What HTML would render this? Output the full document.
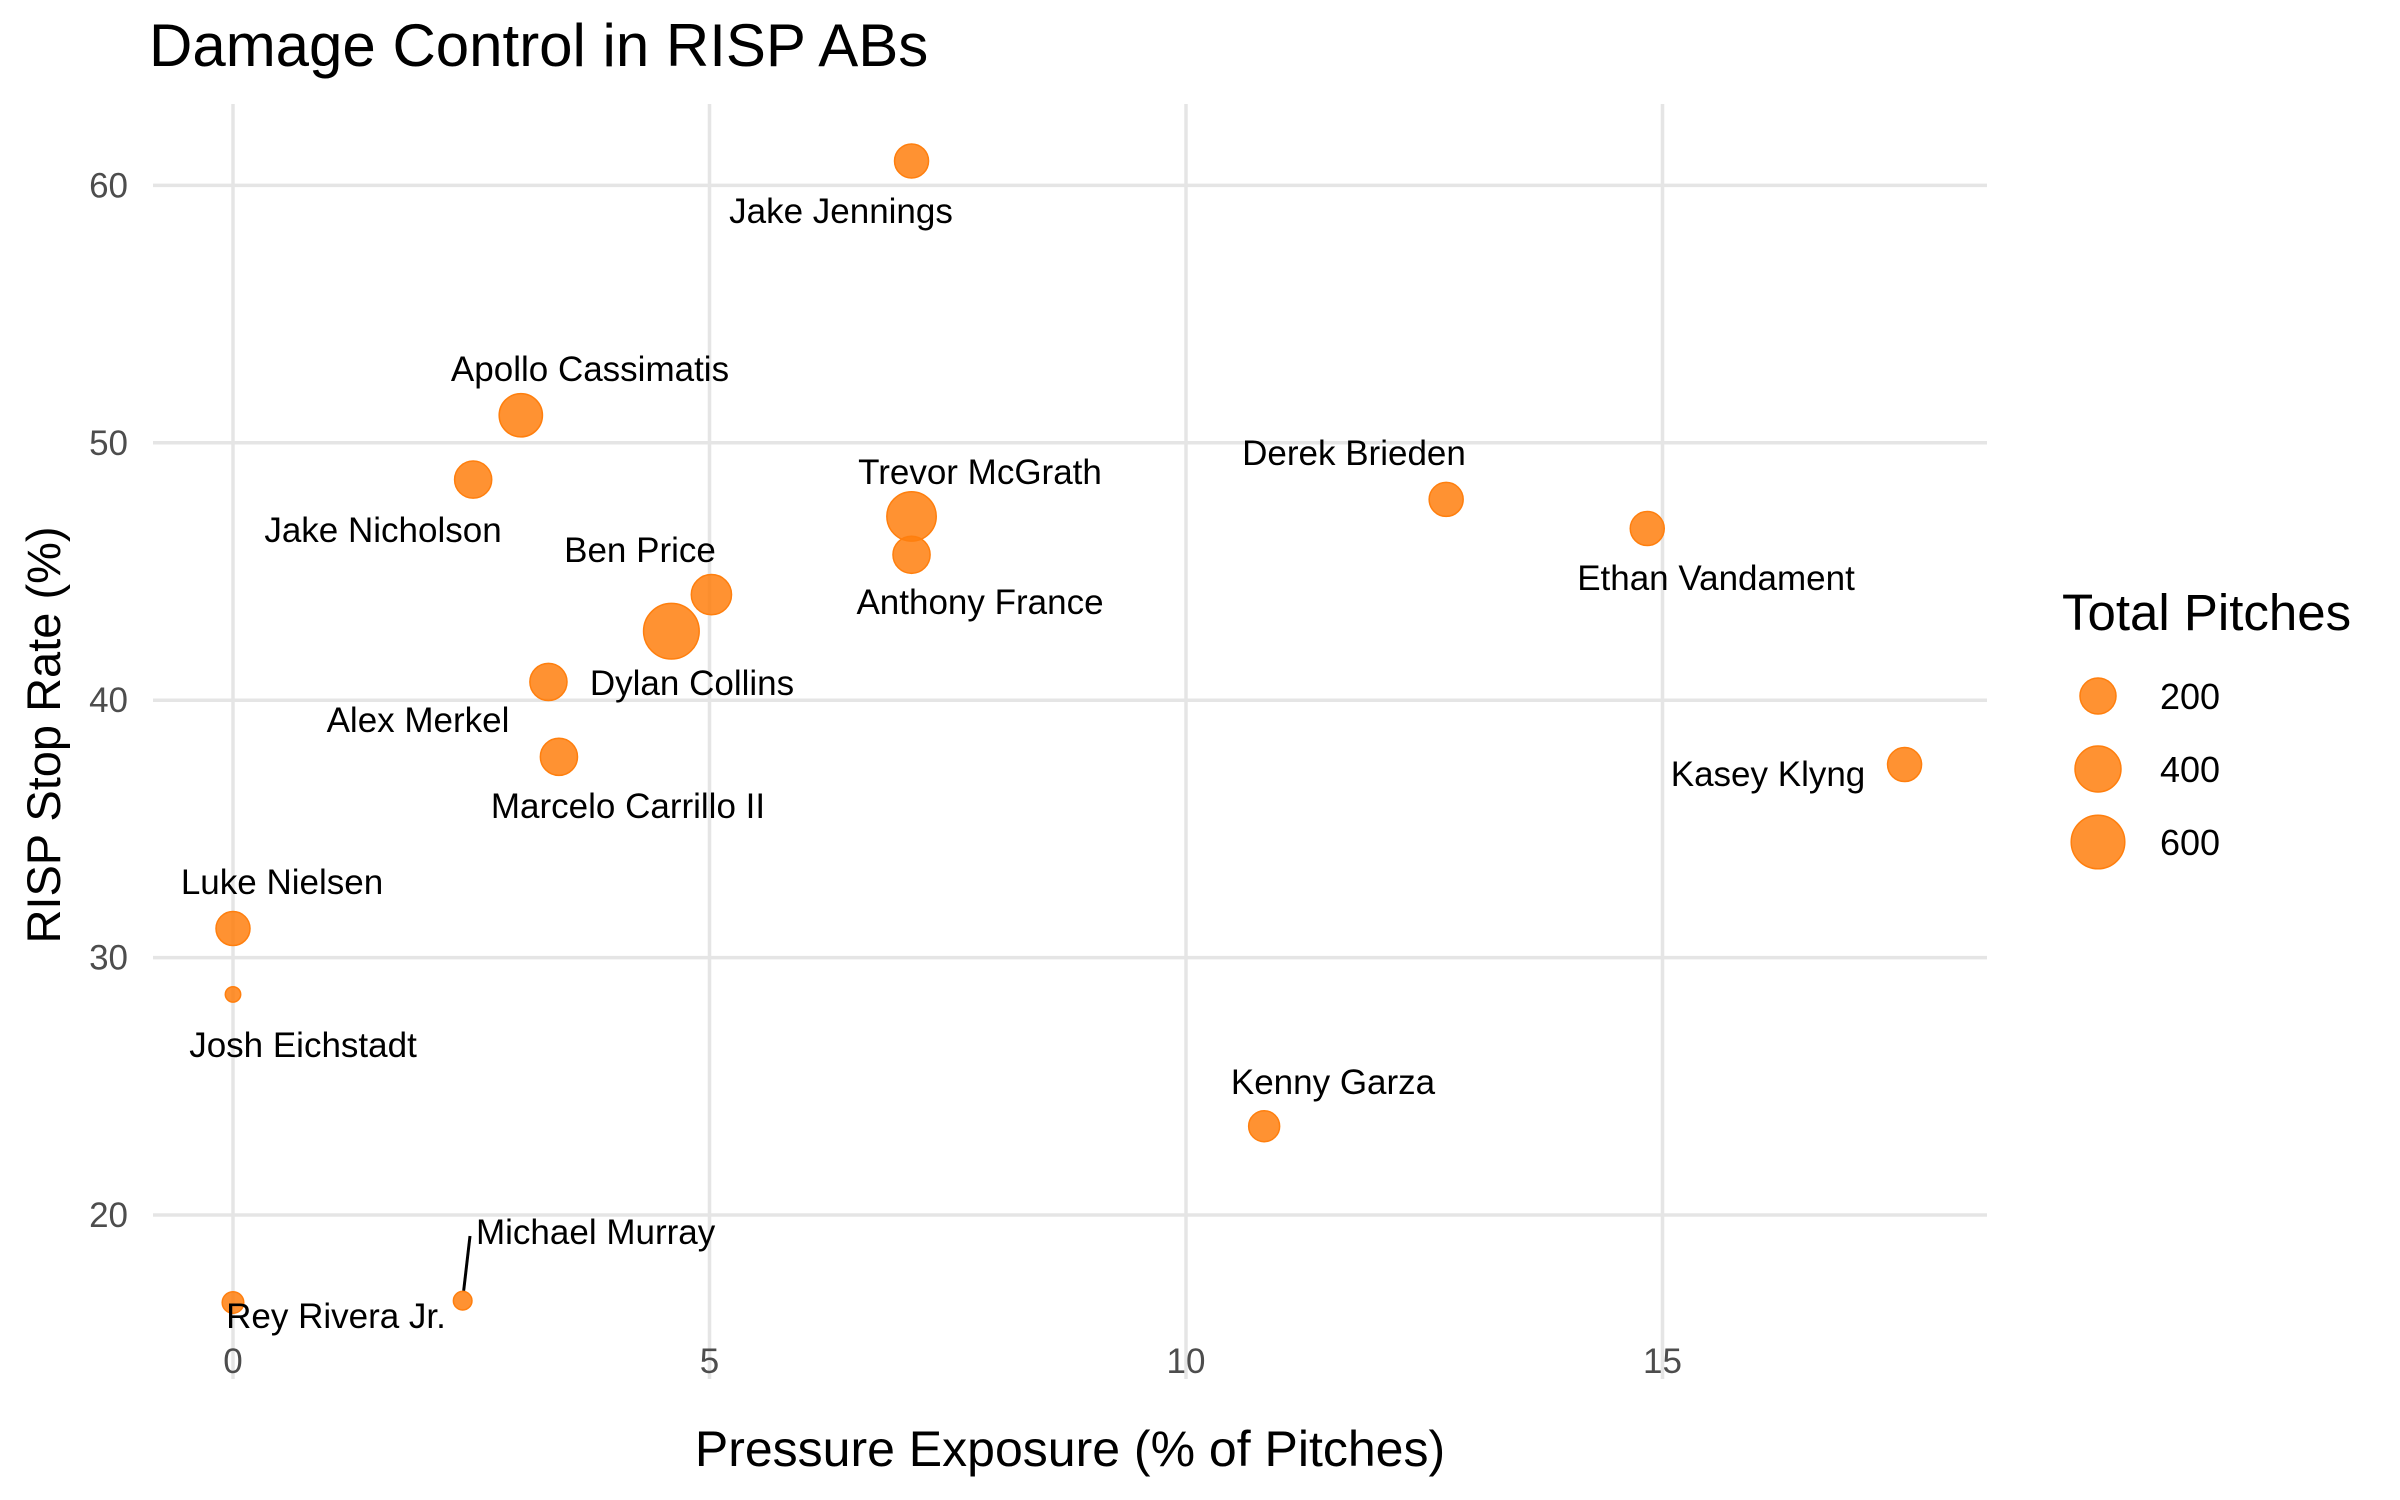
<!DOCTYPE html>
<html><head><meta charset="utf-8"><style>
html,body{margin:0;padding:0;background:#fff}
svg{display:block;font-family:"Liberation Sans",Arial,sans-serif}
</style></head><body>
<svg id="chart" width="2400" height="1500" viewBox="0 0 2400 1500">
<text x="149" y="66" font-size="60" fill="#000">Damage Control in RISP ABs</text>
<g id="grid"></g>
<g id="ticks"></g>
<g id="points"></g>
<g id="labels"></g>
<text x="1070" y="1466" font-size="50" text-anchor="middle" fill="#000">Pressure Exposure (% of Pitches)</text>
<text transform="translate(60,735) rotate(-90)" font-size="47" text-anchor="middle" fill="#000">RISP Stop Rate (%)</text>
<g id="legend">
<text x="2062" y="630" font-size="51" fill="#000">Total Pitches</text>
</g>
</svg>
<script>
const names = ["Jake Jennings","Apollo Cassimatis","Jake Nicholson","Trevor McGrath","Anthony France","Ben Price","Alex Merkel","Dylan Collins","Marcelo Carrillo II","Derek Brieden","Ethan Vandament","Kasey Klyng","Luke Nielsen","Josh Eichstadt","Kenny Garza","Rey Rivera Jr.","Michael Murray"];
const xVals = [7.12,3.02,2.52,7.12,7.12,5.02,4.6,3.31,3.42,12.73,14.84,17.54,0,0,10.82,0,2.41];
const yVals = [60.95,51.07,48.57,47.14,45.65,44.1,42.68,40.71,37.8,47.8,46.67,37.5,31.13,28.57,23.45,16.6,16.67];
const pitches = [168,339,219,485,219,276,660,219,219,168,168,168,168,4,125,32,15];
const xTicks = [0,5,10,15];
const yTicks = [20,30,40,50,60];
const legendVals = [200,400,600];
// label anchor positions (pixel layout, not data)
const labelPos = [[841,211,"middle"],[590,369,"middle"],[383,530,"middle"],[980,472,"middle"],[980,602,"middle"],[640,550,"middle"],[418,720,"middle"],[692,683,"middle"],[628,806,"middle"],[1354,453,"middle"],[1716,578,"middle"],[1768,774,"middle"],[282,882,"middle"],[303,1045,"middle"],[1333,1082,"middle"],[336,1316,"middle"],[476,1232,"start"]];

const NS="http://www.w3.org/2000/svg";
const X = v => 233 + v*95.3;
const Y = v => 185.4 + (60 - v)*25.74;
const R = v => 6 + 0.849*Math.sqrt(v);
function mk(tag, attrs, parent){const e=document.createElementNS(NS,tag);for(const k in attrs)e.setAttribute(k,attrs[k]);parent.appendChild(e);return e;}
const grid=document.getElementById('grid'), ticks=document.getElementById('ticks'), pts=document.getElementById('points'), labs=document.getElementById('labels'), leg=document.getElementById('legend');
xTicks.forEach(t=>{
  const l=mk('line',{x1:X(t),x2:X(t),y1:104,y2:1379,stroke:'#e5e5e5','stroke-width':3.5},grid);
  
  
  const tx=mk('text',{x:X(t),y:1373,'font-size':35,fill:'#4d4d4d','text-anchor':'middle'},ticks);
  tx.textContent=t;
  
  
});
yTicks.forEach(t=>{
  const l=mk('line',{x1:153,x2:1987,y1:Y(t),y2:Y(t),stroke:'#e5e5e5','stroke-width':3.5},grid);
  
  
  const tx=mk('text',{x:128,y:Y(t)+12,'font-size':35,fill:'#4d4d4d','text-anchor':'end'},ticks);
  tx.textContent=t;
  
  
});
const seg=mk('line',{x1:X(xVals[16])+1,y1:Y(yVals[16])-10,x2:470,y2:1236,stroke:'#000','stroke-width':3},labs);


names.forEach((n,i)=>{
  const c=mk('circle',{cx:X(xVals[i]),cy:Y(yVals[i]),r:R(pitches[i]),fill:'#ff7f0e','fill-opacity':0.85,stroke:'#ff7f0e','stroke-width':1.5},pts);
  
  
  const p=labelPos[i];
  const t=mk('text',{x:p[0],y:p[1]+12,'font-size':35,fill:'#000','text-anchor':p[2]},labs);
  t.textContent=n;
  
  
});
legendVals.forEach((v,i)=>{
  const cy=696+i*73;
  const c=mk('circle',{cx:2098,cy:cy,r:R(v),fill:'#ff7f0e','fill-opacity':0.85,stroke:'#ff7f0e','stroke-width':1.5},leg);
  
  
  const t=mk('text',{x:2160,y:cy+13,'font-size':36,fill:'#000'},leg);
  t.textContent=v;
  
  
});
</script>
</body></html>
